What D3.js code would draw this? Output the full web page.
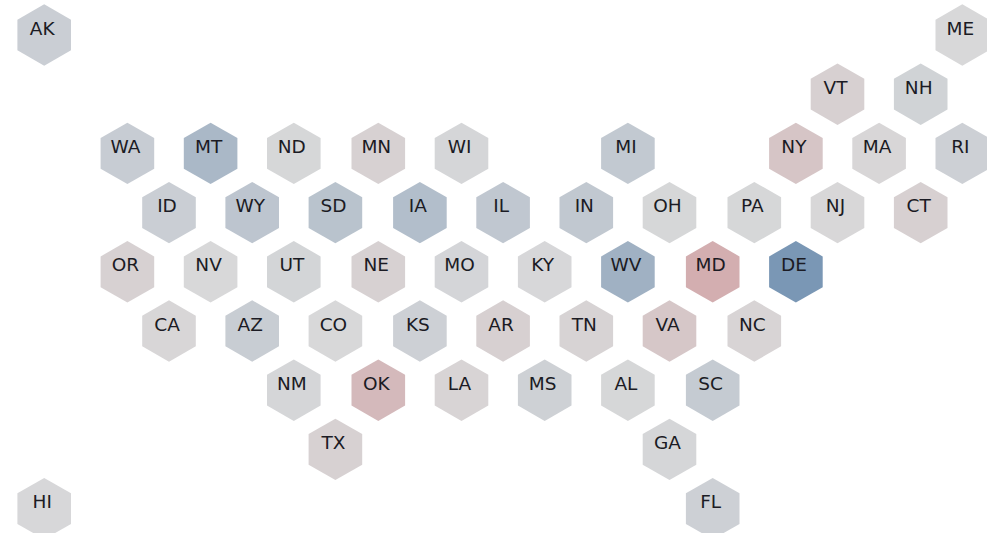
<!DOCTYPE html>
<html><head><meta charset="utf-8"><style>html,body{margin:0;background:#fff}svg{display:block}</style>
<script src="https://cdn.jsdelivr.net/npm/d3@7"></script></head><body><svg id="c" width="987" height="533"></svg>
<script>
const states=["AK","ME","VT","NH","WA","MT","ND","MN","WI","MI","NY","MA","RI","ID","WY","SD","IA","IL","IN","OH","PA","NJ","CT","OR","NV","UT","NE","MO","KY","WV","MD","DE","CA","AZ","CO","KS","AR","TN","VA","NC","NM","OK","LA","MS","AL","SC","TX","GA","HI","FL"];
const cols=[0,22,19,21,2,4,6,8,10,14,18,20,22,3,5,7,9,11,13,15,17,19,21,2,4,6,8,10,12,14,16,18,3,5,7,9,11,13,15,17,6,8,10,12,14,16,7,15,0,16];
const rows=[0,0,1,1,2,2,2,2,2,2,2,2,2,3,3,3,3,3,3,3,3,3,3,4,4,4,4,4,4,4,4,4,5,5,5,5,5,5,5,5,6,6,6,6,6,6,7,7,8,8];
const values=[-0.15,0,0.085,-0.08,-0.18,-0.49,-0.02,0.07,-0.03,-0.23,0.2,0.02,-0.12,-0.15,-0.29,-0.33,-0.4,-0.26,-0.25,-0.02,-0.02,0.01,0.085,0.07,0,-0.05,0.07,-0.04,-0.01,-0.6,0.44,-1,0.02,-0.17,0,-0.12,0.085,0.05,0.18,0.04,-0.03,0.32,0.04,-0.11,-0.02,-0.2,0.07,-0.03,-0.01,-0.12];
const x=d3.scaleLinear().domain([0,7,8,15,16,22]).range([44.2,335.4,378.3,669.5,712.7,962.3]);
const y=d3.scaleLinear().domain([0,8]).range([35,508.6]);
const color=d3.scaleLinear().domain([-1,0,0.5]).range(["#7a97b5","#d8d8d9","#d2a8aa"]);
const r=30.7, w=26.8;
const hex=[[0,-r],[w,-r/2],[w,r/2],[0,r],[-w,r/2],[-w,-r/2]];
const g=d3.select("#c").selectAll("g").data(states).join("g").attr("transform",(d,i)=>`translate(${x(cols[i])},${y(rows[i])})`);
g.append("path").attr("d",d3.line()(hex)+"Z").attr("fill",(d,i)=>color(values[i]));
g.append("text").text(d=>d).attr("x",-2).attr("y",-0.4).attr("text-anchor","middle").attr("font-family","DejaVu Sans").attr("font-size",18.5).attr("fill","#1b1b24");
</script></body></html>
